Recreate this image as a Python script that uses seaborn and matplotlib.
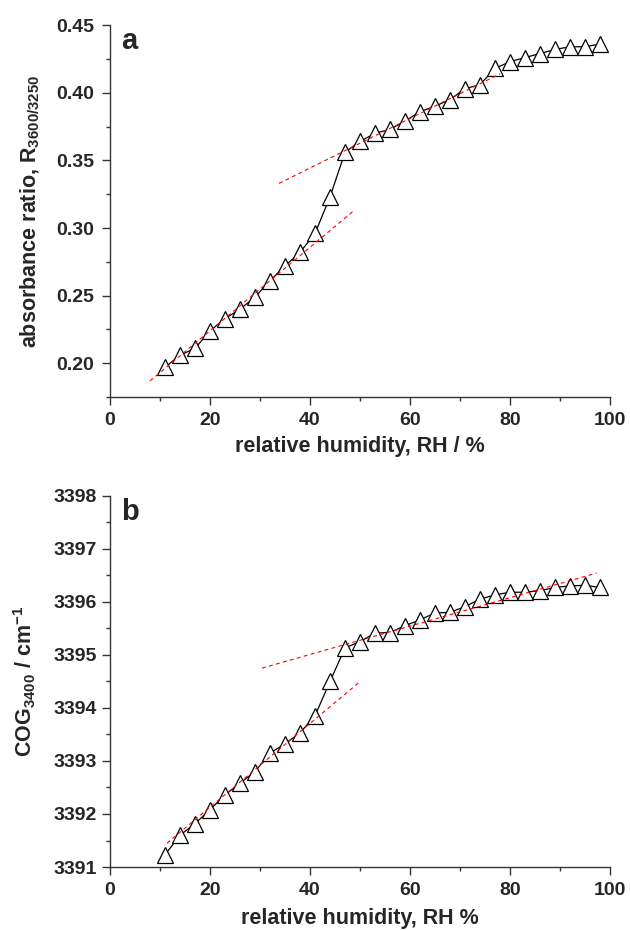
import numpy as np
import pandas as pd
import matplotlib
matplotlib.use("Agg")
import matplotlib.pyplot as plt
from matplotlib.ticker import MultipleLocator
import seaborn as sns

# relative humidity steps
rh = [11, 14, 17, 20, 23, 26, 29, 32, 35, 38, 41, 44, 47, 50, 53,
      56, 59, 62, 65, 68, 71, 74, 77, 80, 83, 86, 89, 92, 95, 98]

# panel a: absorbance ratio R3600/3250
ratio = [0.197, 0.206, 0.211, 0.224, 0.233, 0.240, 0.249, 0.261, 0.272, 0.282,
         0.296, 0.323, 0.356, 0.364, 0.370, 0.373, 0.379, 0.386, 0.390, 0.395,
         0.403, 0.406, 0.418, 0.423, 0.426, 0.429, 0.432, 0.434, 0.434, 0.436]

# panel b: centre of gravity of the 3400 band
cog = [3391.23, 3391.60, 3391.82, 3392.08, 3392.36, 3392.58, 3392.80, 3393.15,
       3393.32, 3393.53, 3393.85, 3394.50, 3395.13, 3395.25, 3395.41, 3395.42,
       3395.55, 3395.66, 3395.79, 3395.80, 3395.91, 3396.05, 3396.13, 3396.18,
       3396.18, 3396.21, 3396.27, 3396.30, 3396.31, 3396.27]

# linear fits (red dashed), endpoints
fit_a1_x, fit_a1_y = [8, 48.5], [0.187, 0.312]
fit_a2_x, fit_a2_y = [33.8, 78], [0.333, 0.414]
fit_b1_x, fit_b1_y = [11.4, 49.8], [3391.45, 3394.48]
fit_b2_x, fit_b2_y = [30.4, 97.3], [3394.75, 3396.54]

sns.set_style("ticks")
plt.rcParams["font.family"] = ["Liberation Sans", "DejaVu Sans"]
plt.rcParams["font.weight"] = "bold"
plt.rcParams["mathtext.fontset"] = "custom"
plt.rcParams["mathtext.bf"] = "Liberation Sans:bold"
plt.rcParams["mathtext.rm"] = "Liberation Sans:bold"
plt.rcParams["mathtext.default"] = "bf"

df = pd.DataFrame({"rh": rh, "ratio": ratio, "cog": cog})

fig = plt.figure(figsize=(6.3, 9.3), dpi=100)
ax_a = fig.add_axes([0.1746, 0.573, 0.7937, 0.400])
ax_b = fig.add_axes([0.1746, 0.0677, 0.7937, 0.3993])

def style_axis(ax, ypad):
    sns.despine(ax=ax)
    for s in ["left", "bottom"]:
        ax.spines[s].set_linewidth(1.0)
        ax.spines[s].set_color("#333333")
    ax.set_xlim(0, 100)
    ax.xaxis.set_major_locator(MultipleLocator(20))
    ax.xaxis.set_minor_locator(MultipleLocator(10))
    ax.tick_params(which="major", direction="out", length=5.5, width=1,
                   labelsize=14, color="#333333")
    ax.tick_params(which="minor", direction="out", length=3, width=1,
                   color="#333333")
    ax.tick_params(axis="x", which="major", pad=5)
    ax.tick_params(axis="y", which="major", pad=ypad)
    for lab in ax.get_xticklabels() + ax.get_yticklabels():
        lab.set_fontweight("bold")

# panel a
sns.lineplot(data=df, x="rh", y="ratio", ax=ax_a, color="black", lw=0.9,
             marker="^", markersize=11, markerfacecolor="white",
             markeredgecolor="black", markeredgewidth=0.9, zorder=3)
ax_a.plot(fit_a1_x, fit_a1_y, ls=(0, (3.5, 3)), color="red", lw=0.8, zorder=4)
ax_a.plot(fit_a2_x, fit_a2_y, ls=(0, (3.5, 3)), color="red", lw=0.8, zorder=4)
ax_a.set_ylim(0.175, 0.45)
ax_a.yaxis.set_major_locator(MultipleLocator(0.05))
ax_a.yaxis.set_minor_locator(MultipleLocator(0.025))
ax_a.yaxis.set_major_formatter(plt.FormatStrFormatter("%.2f"))
style_axis(ax_a, 6)
ax_a.set_xlabel("relative humidity, RH / %", fontsize=15.5, fontweight="bold")
ax_a.set_ylabel("absorbance ratio, R$_{3600/3250}$", fontsize=15.5,
                fontweight="bold")
ax_a.xaxis.set_label_coords(0.5, -0.134)
ax_a.yaxis.set_label_coords(-0.16, 0.5)
ax_a.xaxis.label.set_va("center")
ax_a.yaxis.label.set_va("center")
ax_a.text(0.022, 0.995, "a", transform=ax_a.transAxes, fontsize=21,
          fontweight="bold", va="top", ha="left")

# panel b
sns.lineplot(data=df, x="rh", y="cog", ax=ax_b, color="black", lw=0.9,
             marker="^", markersize=11, markerfacecolor="white",
             markeredgecolor="black", markeredgewidth=0.9, zorder=3)
ax_b.plot(fit_b1_x, fit_b1_y, ls=(0, (3.5, 3)), color="red", lw=0.8, zorder=4)
ax_b.plot(fit_b2_x, fit_b2_y, ls=(0, (3.5, 3)), color="red", lw=0.8, zorder=4)
ax_b.set_ylim(3391, 3398)
ax_b.yaxis.set_major_locator(MultipleLocator(1))
ax_b.yaxis.set_minor_locator(MultipleLocator(0.5))
ax_b.yaxis.set_major_formatter(plt.FormatStrFormatter("%d"))
style_axis(ax_b, 4)
ax_b.set_xlabel("relative humidity, RH %", fontsize=15.5, fontweight="bold")
ax_b.set_ylabel("COG$_{3400}$ / cm$^{-1}$", fontsize=15.5, fontweight="bold")
ax_b.xaxis.set_label_coords(0.5, -0.138)
ax_b.yaxis.set_label_coords(-0.17, 0.5)
ax_b.xaxis.label.set_va("center")
ax_b.yaxis.label.set_va("center")
ax_b.text(0.022, 0.995, "b", transform=ax_b.transAxes, fontsize=21,
          fontweight="bold", va="top", ha="left")

fig.savefig("out.png", dpi=100)
